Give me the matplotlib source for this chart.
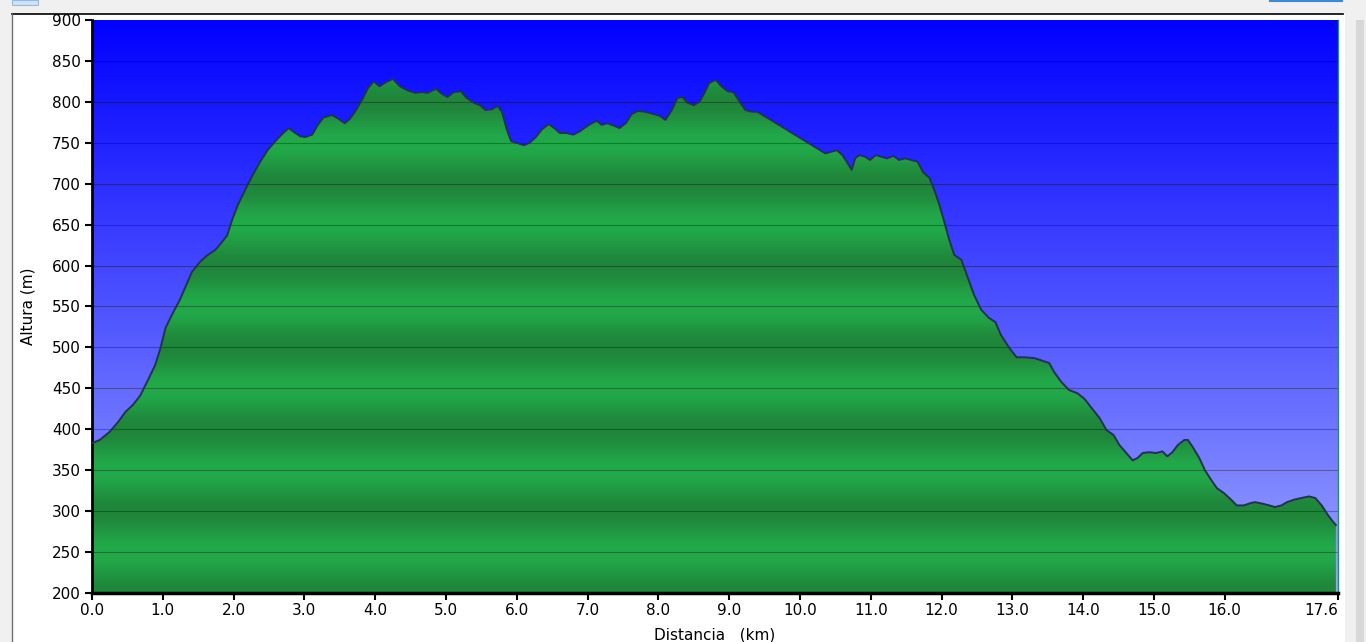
import numpy as np
import matplotlib
matplotlib.use("Agg")
import matplotlib.pyplot as plt
from matplotlib.patches import Polygon, Rectangle

dist_km = [0.00, 0.11, 0.25, 0.37, 0.47, 0.58, 0.68, 0.79, 0.89, 0.96, 1.04, 1.13, 1.24, 1.33, 1.41,
           1.52, 1.62, 1.74, 1.83, 1.91, 1.98, 2.06, 2.16, 2.26, 2.37, 2.48, 2.60, 2.70, 2.78, 2.84,
           2.94, 3.01, 3.11, 3.19, 3.27, 3.39, 3.47, 3.57, 3.64, 3.73, 3.81, 3.90, 3.98, 4.06, 4.15,
           4.25, 4.35, 4.46, 4.57, 4.66, 4.74, 4.86, 4.94, 5.02, 5.11, 5.21, 5.29, 5.39, 5.48, 5.56,
           5.65, 5.73, 5.79, 5.86, 5.92, 6.00, 6.10, 6.18, 6.27, 6.35, 6.45, 6.53, 6.61, 6.70, 6.80,
           6.89, 6.97, 7.04, 7.13, 7.20, 7.28, 7.37, 7.45, 7.54, 7.62, 7.71, 7.81, 7.90, 8.02, 8.10,
           8.19, 8.27, 8.34, 8.41, 8.50, 8.58, 8.65, 8.72, 8.81, 8.89, 8.98, 9.06, 9.15, 9.23, 9.32,
           9.40, 10.36, 10.44, 10.52, 10.60, 10.66, 10.73, 10.78, 10.84, 10.92, 10.99, 11.07, 11.15,
           11.23, 11.32, 11.40, 11.49, 11.57, 11.66, 11.74, 11.83, 11.90, 11.97, 12.04, 12.11, 12.18,
           12.28, 12.36, 12.46, 12.56, 12.67, 12.76, 12.84, 12.96, 13.06, 13.17, 13.31, 13.45, 13.52,
           13.59, 13.69, 13.80, 13.92, 14.02, 14.11, 14.23, 14.33, 14.43, 14.51, 14.61, 14.70, 14.77,
           14.84, 14.93, 15.03, 15.12, 15.19, 15.26, 15.34, 15.43, 15.48, 15.55, 15.64, 15.72, 15.81,
           15.89, 15.99, 16.09, 16.17, 16.27, 16.37, 16.43, 16.54, 16.63, 16.71, 16.80, 16.88, 16.98,
           17.08, 17.19, 17.28, 17.37, 17.46, 17.53, 17.57]
alt_m = [383, 387, 397, 409, 421, 430, 441, 460, 478, 497, 524, 540, 558, 576, 592,
         604, 612, 619, 628, 637, 656, 674, 692, 709, 726, 741, 753, 762, 768, 764,
         758, 757, 760, 772, 781, 784, 780, 774, 779, 790, 802, 817, 825, 819, 824,
         828, 819, 814, 811, 812, 811, 816, 810, 806, 812, 813, 805, 799, 796, 790,
         791, 795, 788, 766, 752, 750, 747, 750, 757, 766, 773, 768, 762, 762, 760,
         764, 769, 773, 777, 772, 774, 771, 768, 774, 785, 789, 788, 786, 783, 778,
         790, 805, 806, 799, 796, 800, 811, 823, 827, 819, 813, 812, 800, 790, 788,
         788, 737, 739, 741, 735, 727, 717, 731, 735, 733, 729, 735, 733,
         731, 734, 729, 731, 729, 727, 714, 707, 692, 674, 653, 631, 613,
         607, 588, 564, 546, 536, 531, 515, 499, 488, 488, 487, 483, 481,
         470, 458, 448, 444, 437, 427, 414, 399, 393, 381, 371, 362, 365,
         371, 372, 371, 373, 367, 372, 381, 387, 387, 378, 365, 350, 338,
         328, 322, 314, 307, 307, 310, 311, 309, 307, 305, 307, 311, 314,
         316, 318, 316, 307, 295, 287, 283]

x_ticks = [0, 1, 2, 3, 4, 5, 6, 7, 8, 9, 10, 11, 12, 13, 14, 15, 16, 17.6]
x_ticklabels = ["0.0", "1.0", "2.0", "3.0", "4.0", "5.0", "6.0", "7.0", "8.0", "9.0",
                "10.0", "11.0", "12.0", "13.0", "14.0", "15.0", "16.0", "17.6"]
y_ticks = list(range(200, 901, 50))
x_label = "Distancia   (km)"
y_label = "Altura (m)"

W, H = 1366, 642
fig = plt.figure(figsize=(W / 100, H / 100), dpi=100, facecolor="#f0f0f0")

# white panel behind the chart
bgax = fig.add_axes([0, 0, 1, 1], zorder=-10)
bgax.set_xlim(0, W)
bgax.set_ylim(H, 0)
bgax.axis("off")
bgax.add_patch(Rectangle((12, 14), 1333, H - 14, facecolor="white", edgecolor="none"))
bgax.plot([12, 1343], [14, 14], color="black", lw=1.2)
bgax.plot([12, 12], [14, H], color="#707070", lw=1)
bgax.add_patch(Rectangle((1356, 20), 8, H - 20, facecolor="#d8d8d8", edgecolor="none"))
bgax.add_patch(Rectangle((12, 0), 26, 5, facecolor="#cfe3f7", edgecolor="#9ab8d8", lw=0.8))
bgax.plot([1270, 1342], [0.8, 0.8], color="#3a8ad8", lw=1.5)

ax = fig.add_axes([92 / W, (H - 593) / H, (1338 - 92) / W, (593 - 20) / H], zorder=1)
xmin, xmax, ymin, ymax = 0, 17.6, 200, 900
ax.set_xlim(xmin, xmax)
ax.set_ylim(ymin, ymax)

# blue background gradient
n = 400
t = np.linspace(0, 1, n)[:, None]  # 0 top, 1 bottom
top = np.array([0, 0, 255]) / 255
bot = np.array([155, 165, 255]) / 255
bg = top + (bot - top) * t
bg = np.repeat(bg[:, None, :], 2, axis=1)
ax.imshow(bg, extent=[xmin, xmax, ymin, ymax], aspect="auto", origin="upper", zorder=0,
          interpolation="bilinear")

# green banded gradient
yy = np.linspace(ymax, ymin, 1400)
phase = (np.cos(2 * np.pi * (yy - 200) / 100) + 1) / 2  # 1 at multiples of 100 (dark)
light = np.array([34, 170, 74]) / 255
dark = np.array([31, 133, 58]) / 255
gr = light + (dark - light) * phase[:, None]
gr = np.repeat(gr[:, None, :], 2, axis=1)
im = ax.imshow(gr, extent=[xmin, xmax, ymin, ymax], aspect="auto", origin="upper", zorder=1,
               interpolation="bilinear")
poly_pts = [(dist_km[0], ymin)] + list(zip(dist_km, alt_m)) + [(dist_km[-1], ymin)]
poly = Polygon(poly_pts, closed=True, facecolor="none", edgecolor="none", transform=ax.transData)
ax.add_patch(poly)
im.set_clip_path(poly)

ax.plot(dist_km, alt_m, color="#1b3a3a", lw=1.4, zorder=3)

for v in y_ticks[1:-1]:
    ax.axhline(v, color="black", lw=0.8, alpha=0.3, zorder=2)

ax.set_xticks(x_ticks)
ax.set_xticklabels(x_ticklabels)
ax.set_yticks(y_ticks)
ax.tick_params(axis="both", direction="out", length=5, width=1.5, labelsize=11, colors="black")
ax.tick_params(axis="x", pad=2)
ax.tick_params(axis="y", pad=3)
ax.get_xticklabels()[-1].set_horizontalalignment("right")
ax.spines["left"].set_linewidth(2)
ax.spines["bottom"].set_linewidth(2.5)
ax.spines["top"].set_visible(False)
ax.spines["right"].set_color("#2a8a60")
ax.spines["right"].set_linewidth(1)
ax.set_xlabel(x_label, fontsize=11, labelpad=7)
ax.set_ylabel(y_label, fontsize=11, labelpad=12)

fig.savefig("out.png", dpi=100, facecolor=fig.get_facecolor())
